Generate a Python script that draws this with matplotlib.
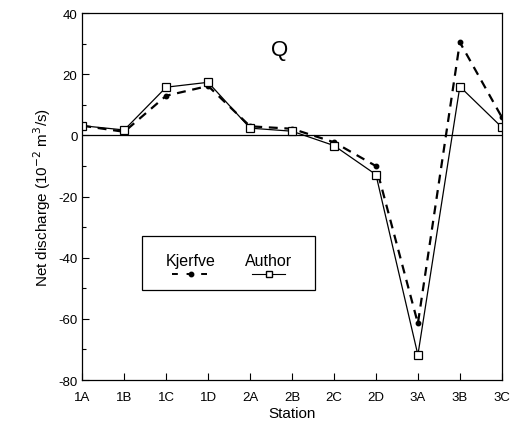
import matplotlib
matplotlib.use("Agg")
import matplotlib.pyplot as plt
from matplotlib.patches import Rectangle

plt.rcParams['font.family'] = ['Liberation Sans', 'DejaVu Sans']
plt.rcParams['axes.unicode_minus'] = False

stations = ['1A', '1B', '1C', '1D', '2A', '2B', '2C', '2D', '3A', '3B', '3C']
kjerfve = [3.2, 1.2, 13.0, 16.2, 3.0, 2.2, -2.2, -10.0, -61.5, 30.5, 6.0]
author = [3.2, 1.8, 15.8, 17.4, 2.4, 1.4, -3.3, -12.8, -71.8, 16.0, 2.7]

fig = plt.figure(figsize=(5.11, 4.31), dpi=100)
ax = fig.add_axes([0.161, 0.116, 0.821, 0.851])

x = list(range(len(stations)))
ax.axhline(0, color='black', lw=0.9)
ax.plot(x, kjerfve, color='black', ls=(0, (4, 3)), lw=1.6,
        marker='o', ms=3.2, mfc='black')
ax.plot(x, author, color='black', ls='-', lw=0.9,
        marker='s', ms=5.5, mfc='white', mec='black', mew=0.9)

ax.set_xlim(0, 10)
ax.set_ylim(-80, 40)
ax.set_xticks(x)
ax.set_xticklabels(stations)
ax.set_yticks(range(-80, 41, 20))
ax.set_yticks(range(-70, 40, 20), minor=True)
ax.tick_params(direction='in', labelsize=9.5, length=5, width=0.8)
ax.tick_params(which='minor', direction='in', length=3, width=0.8)
ax.tick_params(axis='x', pad=8)
for s in ax.spines.values():
    s.set_linewidth(0.9)

ax.set_xlabel('Station', fontsize=11, labelpad=2)
ax.set_ylabel('Net discharge (10$^{-2}$ m$^{3}$/s)', fontsize=11, labelpad=4)

ax.text(0.47, 0.90, 'Q', transform=ax.transAxes, fontsize=16,
        ha='center', va='center')

# legend box drawn by hand: labels above, line samples below
ax.add_patch(Rectangle((0.143, 0.245), 0.412, 0.147, transform=ax.transAxes,
                       fill=False, ec='black', lw=0.9, zorder=5))
ax.text(0.258, 0.325, 'Kjerfve', transform=ax.transAxes, fontsize=11.5,
        ha='center', va='center')
ax.text(0.443, 0.325, 'Author', transform=ax.transAxes, fontsize=11.5,
        ha='center', va='center')
ax.plot([0.215, 0.258, 0.301], [0.29, 0.29, 0.29], transform=ax.transAxes,
        color='black', ls=(0, (3, 4.5)), lw=1.4, marker='o', ms=3.2,
        markevery=[1])
ax.plot([0.405, 0.483], [0.29, 0.29], transform=ax.transAxes, color='black',
        lw=0.8)
ax.plot([0.444], [0.29], transform=ax.transAxes, color='black', ls='none',
        marker='s', ms=4.5, mfc='white', mec='black')

fig.savefig('out.png', dpi=100)
